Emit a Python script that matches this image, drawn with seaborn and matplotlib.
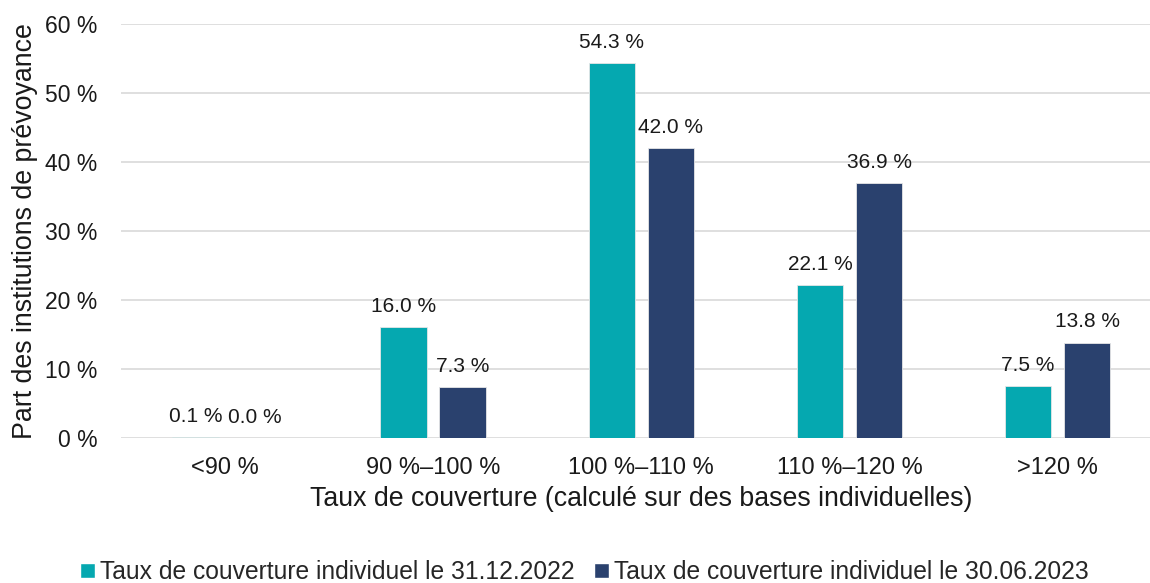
import pandas as pd
import matplotlib.pyplot as plt
import seaborn as sns
from matplotlib.patches import Patch

# Données
categories = ['<90 %', '90 %–100 %', '100 %–110 %', '110 %–120 %', '>120 %']
serie_2022 = [0.1, 16.0, 54.3, 22.1, 7.5]
serie_2023 = [0.0, 7.3, 42.0, 36.9, 13.8]
nom_2022 = 'Taux de couverture individuel le 31.12.2022'
nom_2023 = 'Taux de couverture individuel le 30.06.2023'
y_ticks = [0, 10, 20, 30, 40, 50, 60]

couleurs = {nom_2022: '#05A8B0', nom_2023: '#2A416E'}

df = pd.DataFrame({
    'Categorie': categories * 2,
    'Valeur': serie_2022 + serie_2023,
    'Serie': [nom_2022] * len(categories) + [nom_2023] * len(categories),
})

sns.set_theme(style='white')
plt.rcParams['font.family'] = ['Liberation Sans', 'DejaVu Sans']

fig = plt.figure(figsize=(11.5, 5.83), dpi=100)
ax = fig.add_axes([0.1052, 0.2492, 0.905, 0.710])

sns.barplot(data=df, x='Categorie', y='Valeur', hue='Serie', order=categories,
            hue_order=[nom_2022, nom_2023], palette=couleurs, saturation=1,
            width=0.567, gap=0.21, edgecolor='#e6e6e6', linewidth=0.6,
            ax=ax, legend=False, zorder=3)

# étiquettes de valeurs
for cont in ax.containers:
    for bar in cont:
        h = bar.get_height()
        ax.annotate(f'{h:.1f} %', (bar.get_x() + bar.get_width() / 2, h),
                    xytext=(0, 8), textcoords='offset points',
                    ha='center', va='bottom', fontsize=15, color='#1a1a1a')

ax.set_ylim(0, 60)
ax.set_xlim(-0.5, len(categories) - 0.5)
ax.set_yticks(y_ticks)
ax.set_yticklabels([f'{t} %' for t in y_ticks], fontsize=16.5, color='#1a1a1a')
ax.tick_params(axis='x', labelsize=17, colors='#1a1a1a', length=0, pad=14)
ax.tick_params(axis='y', length=0, pad=17)
ax.yaxis.grid(True, color='#d9d9d9', linewidth=1.2, zorder=0)
ax.set_axisbelow(True)
for s in ax.spines.values():
    s.set_visible(False)

ax.set_xlabel('Taux de couverture (calculé sur des bases individuelles)', fontsize=19.3,
              color='#1a1a1a', labelpad=5)
ax.set_ylabel('Part des institutions de prévoyance', fontsize=19.3, color='#1a1a1a',
              labelpad=5)

handles = [Patch(facecolor=couleurs[nom_2022]), Patch(facecolor=couleurs[nom_2023])]
fig.legend(handles, [nom_2022, nom_2023], loc='lower center', bbox_to_anchor=(0.508, -0.04),
           ncol=2, frameon=False, fontsize=17.7, handlelength=0.6, handleheight=0.6,
           handletextpad=0.2, columnspacing=0.8)

fig.savefig('out.png', dpi=100)
